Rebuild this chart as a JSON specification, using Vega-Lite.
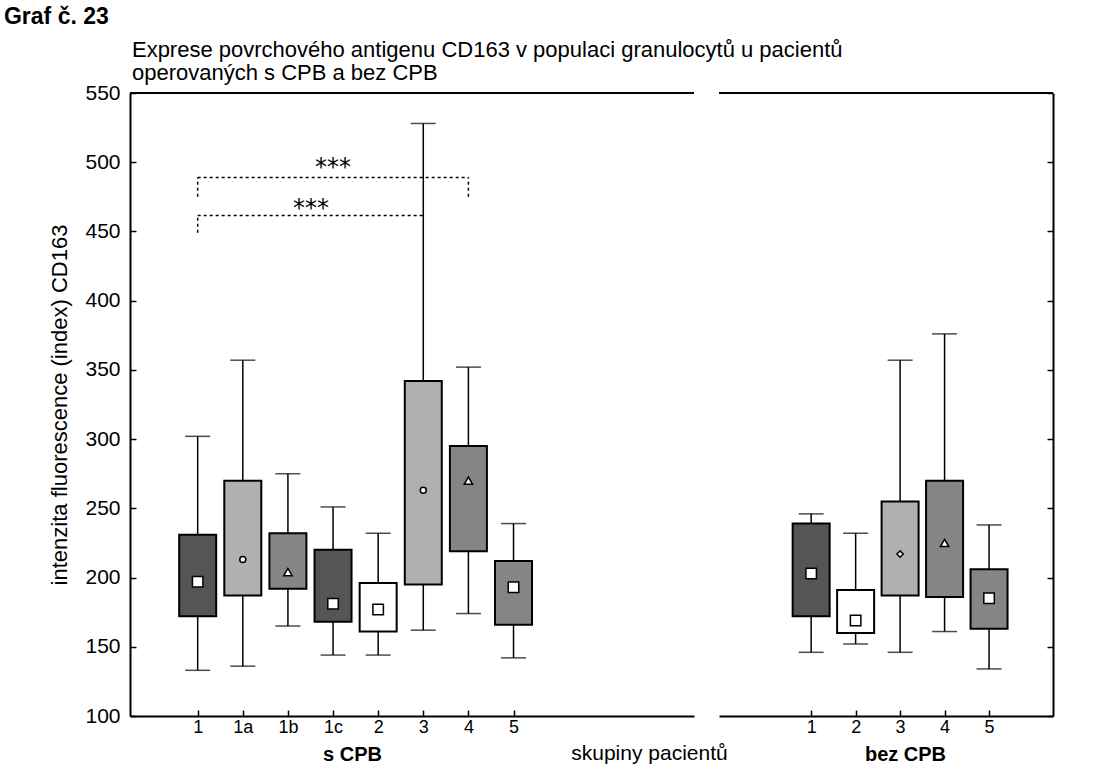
{
  "$schema": "https://vega.github.io/schema/vega-lite/v6.json",
  "padding": {"left": 3, "top": 6, "right": 10, "bottom": 5},
  "background": "white",
  "config": {
    "font": "Liberation Sans",
    "view": {"stroke": null},
    "axis": {
      "grid": false,
      "domainColor": "black",
      "domainWidth": 2,
      "tickColor": "black",
      "tickWidth": 1.5,
      "labelColor": "black",
      "titleColor": "black",
      "labelFont": "Liberation Sans",
      "titleFont": "Liberation Sans"
    },
    "concat": {"spacing": 23}
  },
  "datasets": {
    "sCPB": [
      {"skupina": "1", "id": "s1", "min": 133, "q1": 172, "mid": 197, "q3": 231, "max": 302},
      {"skupina": "1a", "id": "s1a", "min": 136, "q1": 187, "mid": 213, "q3": 270, "max": 357},
      {"skupina": "1b", "id": "s1b", "min": 165, "q1": 192, "mid": 204, "q3": 232, "max": 275},
      {"skupina": "1c", "id": "s1c", "min": 144, "q1": 168, "mid": 181, "q3": 220, "max": 251},
      {"skupina": "2", "id": "s2", "min": 144, "q1": 161, "mid": 177, "q3": 196, "max": 232},
      {"skupina": "3", "id": "s3", "min": 162, "q1": 195, "mid": 263, "q3": 342, "max": 528},
      {"skupina": "4", "id": "s4", "min": 174, "q1": 219, "mid": 270, "q3": 295, "max": 352},
      {"skupina": "5", "id": "s5", "min": 142, "q1": 166, "mid": 193, "q3": 212, "max": 239}
    ],
    "bezCPB": [
      {"skupina": "1", "id": "b1", "min": 146, "q1": 172, "mid": 203, "q3": 239, "max": 246},
      {"skupina": "2", "id": "b2", "min": 152, "q1": 160, "mid": 169, "q3": 191, "max": 232},
      {"skupina": "3", "id": "b3", "min": 146, "q1": 187, "mid": 217, "q3": 255, "max": 357},
      {"skupina": "4", "id": "b4", "min": 161, "q1": 186, "mid": 225, "q3": 270, "max": 376},
      {"skupina": "5", "id": "b5", "min": 134, "q1": 163, "mid": 185, "q3": 206, "max": 238}
    ],
    "zavorky": [
      {"od": "1", "do": "3", "y1": 461.5, "y2": 461.5},
      {"od": "1", "do": "1", "y1": 449, "y2": 461.5},
      {"od": "1", "do": "4", "y1": 489, "y2": 489},
      {"od": "1", "do": "1", "y1": 475, "y2": 489},
      {"od": "4", "do": "4", "y1": 475, "y2": 489}
    ],
    "hvezdicky": [
      {"u": "1c", "v": 499, "t": "***", "uroven": "horni"},
      {"u": "1b", "v": 469, "t": "***", "uroven": "dolni"}
    ]
  },
  "title": {
    "text": "Graf č. 23",
    "anchor": "start",
    "frame": "bounds",
    "dx": -45,
    "fontSize": 23,
    "fontWeight": "bold",
    "font": "Liberation Sans",
    "color": "black",
    "offset": 10
  },
  "vconcat": [
    {
      "title": {
        "text": ["Exprese povrchového antigenu CD163 v populaci granulocytů u pacientů", "operovaných s CPB a bez CPB"],
        "anchor": "start",
        "frame": "bounds",
        "dx": 83,
        "fontSize": 22,
        "fontWeight": "normal",
        "font": "Liberation Sans",
        "lineHeight": 23,
        "offset": -3,
        "color": "black"
      },
      "vconcat": [
        {
          "title": {
            "text": "skupiny pacientů",
            "orient": "bottom",
            "anchor": "middle",
            "frame": "bounds",
            "dx": 98,
            "fontSize": 21,
            "fontWeight": "normal",
            "font": "Liberation Sans",
            "offset": -21,
            "color": "black"
          },
          "hconcat": [
            {
              "width": 564,
              "height": 623,
              "data": {"name": "sCPB"},
              "layer": [
                {
                  "mark": {"type": "rule", "color": "black", "strokeWidth": 1.5},
                  "encoding": {
                    "x": {
                      "field": "skupina", "type": "ordinal",
                      "scale": {"type": "point", "domain": ["1", "1a", "1b", "1c", "2", "3", "4", "5", " ", "  ", "   ", "    "], "padding": 0.75, "align": 1},
                      "axis": {
                        "orient": "bottom", "values": ["1", "1a", "1b", "1c", "2", "3", "4", "5"],
                        "tickSize": -6, "labelPadding": 8, "labelFontSize": 18, "labelAngle": 0,
                        "title": "s CPB", "titleFontSize": 20, "titleFontWeight": "bold", "titleX": 222, "titlePadding": 8
                      }
                    },
                    "y": {
                      "field": "min", "type": "quantitative",
                      "scale": {"domain": [100, 550], "nice": false, "zero": false},
                      "axis": {
                        "orient": "left", "values": [100, 150, 200, 250, 300, 350, 400, 450, 500, 550],
                        "tickSize": -6, "labelPadding": 16, "labelFontSize": 21,
                        "title": "intenzita fluorescence (index) CD163", "titleFontSize": 22, "titleFontWeight": "normal", "titlePadding": 13
                      }
                    },
                    "y2": {"field": "max"}
                  }
                },
                {
                  "mark": {"type": "rule", "color": "black", "strokeWidth": 2},
                  "encoding": {"y": {"datum": 550, "type": "quantitative"}}
                },
                {
                  "mark": {"type": "tick", "color": "black", "size": 25, "thickness": 1.5},
                  "encoding": {
                    "x": {"field": "skupina", "type": "ordinal"},
                    "y": {"field": "min", "type": "quantitative"}
                  }
                },
                {
                  "mark": {"type": "tick", "color": "black", "size": 25, "thickness": 1.5},
                  "encoding": {
                    "x": {"field": "skupina", "type": "ordinal"},
                    "y": {"field": "max", "type": "quantitative"}
                  }
                },
                {
                  "mark": {"type": "bar", "size": 37, "stroke": "black", "strokeWidth": 2},
                  "encoding": {
                    "x": {"field": "skupina", "type": "ordinal"},
                    "y": {"field": "q1", "type": "quantitative"},
                    "y2": {"field": "q3"},
                    "fill": {
                      "field": "id", "type": "nominal", "legend": null,
                      "scale": {
                        "domain": ["s1", "s1a", "s1b", "s1c", "s2", "s3", "s4", "s5", "b1", "b2", "b3", "b4", "b5"],
                        "range": ["#555555", "#b0b0b0", "#858585", "#555555", "#ffffff", "#b0b0b0", "#858585", "#858585", "#555555", "#ffffff", "#b0b0b0", "#858585", "#858585"]
                      }
                    }
                  }
                },
                {
                  "mark": {"type": "point", "fill": "white", "stroke": "black", "strokeWidth": 1.5, "opacity": 1, "filled": false},
                  "encoding": {
                    "x": {"field": "skupina", "type": "ordinal"},
                    "y": {"field": "mid", "type": "quantitative"},
                    "shape": {
                      "field": "id", "type": "nominal", "legend": null,
                      "scale": {
                        "domain": ["s1", "s1a", "s1b", "s1c", "s2", "s3", "s4", "s5", "b1", "b2", "b3", "b4", "b5"],
                        "range": ["square", "circle", "triangle-up", "square", "square", "circle", "triangle-up", "square", "square", "square", "diamond", "triangle-up", "square"]
                      }
                    },
                    "size": {
                      "field": "id", "type": "nominal", "legend": null,
                      "scale": {
                        "type": "ordinal",
                        "domain": ["s1", "s1a", "s1b", "s1c", "s2", "s3", "s4", "s5", "b1", "b2", "b3", "b4", "b5"],
                        "range": [110, 36, 70, 110, 110, 36, 70, 110, 110, 110, 40, 70, 110]
                      }
                    }
                  }
                },
                {
                  "data": {"name": "zavorky"},
                  "mark": {"type": "rule", "color": "black", "strokeWidth": 1.5, "strokeDash": [3, 3]},
                  "encoding": {
                    "x": {"field": "od", "type": "ordinal"},
                    "x2": {"field": "do"},
                    "y": {"field": "y1", "type": "quantitative"},
                    "y2": {"field": "y2"}
                  }
                },
                {
                  "data": {"name": "hvezdicky"},
                  "transform": [{"filter": "datum.uroven === 'horni'"}],
                  "mark": {"type": "text", "font": "DejaVu Sans", "fontSize": 24, "baseline": "middle", "dy": 4, "color": "black"},
                  "encoding": {
                    "x": {"field": "u", "type": "ordinal"},
                    "y": {"field": "v", "type": "quantitative"},
                    "text": {"field": "t"}
                  }
                },
                {
                  "data": {"name": "hvezdicky"},
                  "transform": [{"filter": "datum.uroven === 'dolni'"}],
                  "mark": {"type": "text", "font": "DejaVu Sans", "fontSize": 24, "baseline": "middle", "dy": 4, "dx": 23, "color": "black"},
                  "encoding": {
                    "x": {"field": "u", "type": "ordinal"},
                    "y": {"field": "v", "type": "quantitative"},
                    "text": {"field": "t"}
                  }
                }
              ]
            },
            {
              "width": 334,
              "height": 623,
              "data": {"name": "bezCPB"},
              "layer": [
                {
                  "mark": {"type": "rule", "color": "black", "strokeWidth": 1.5},
                  "encoding": {
                    "x": {
                      "field": "skupina", "type": "ordinal",
                      "scale": {"type": "point", "domain": [" ", "1", "2", "3", "4", "5", "  "], "padding": 0.755, "align": 0.71},
                      "axis": {
                        "orient": "bottom", "values": ["1", "2", "3", "4", "5"],
                        "tickSize": -6, "labelPadding": 8, "labelFontSize": 18, "labelAngle": 0,
                        "title": "bez CPB", "titleFontSize": 20, "titleFontWeight": "bold", "titleX": 186, "titlePadding": 8
                      }
                    },
                    "y": {
                      "field": "min", "type": "quantitative",
                      "scale": {"domain": [100, 550], "nice": false, "zero": false},
                      "axis": {
                        "orient": "right", "values": [100, 150, 200, 250, 300, 350, 400, 450, 500, 550],
                        "tickSize": -6, "labels": false, "title": null
                      }
                    },
                    "y2": {"field": "max"}
                  }
                },
                {
                  "mark": {"type": "rule", "color": "black", "strokeWidth": 2},
                  "encoding": {"y": {"datum": 550, "type": "quantitative"}}
                },
                {
                  "mark": {"type": "tick", "color": "black", "size": 25, "thickness": 1.5},
                  "encoding": {
                    "x": {"field": "skupina", "type": "ordinal"},
                    "y": {"field": "min", "type": "quantitative"}
                  }
                },
                {
                  "mark": {"type": "tick", "color": "black", "size": 25, "thickness": 1.5},
                  "encoding": {
                    "x": {"field": "skupina", "type": "ordinal"},
                    "y": {"field": "max", "type": "quantitative"}
                  }
                },
                {
                  "mark": {"type": "bar", "size": 37, "stroke": "black", "strokeWidth": 2},
                  "encoding": {
                    "x": {"field": "skupina", "type": "ordinal"},
                    "y": {"field": "q1", "type": "quantitative"},
                    "y2": {"field": "q3"},
                    "fill": {
                      "field": "id", "type": "nominal", "legend": null,
                      "scale": {
                        "domain": ["s1", "s1a", "s1b", "s1c", "s2", "s3", "s4", "s5", "b1", "b2", "b3", "b4", "b5"],
                        "range": ["#555555", "#b0b0b0", "#858585", "#555555", "#ffffff", "#b0b0b0", "#858585", "#858585", "#555555", "#ffffff", "#b0b0b0", "#858585", "#858585"]
                      }
                    }
                  }
                },
                {
                  "mark": {"type": "point", "fill": "white", "stroke": "black", "strokeWidth": 1.5, "opacity": 1, "filled": false},
                  "encoding": {
                    "x": {"field": "skupina", "type": "ordinal"},
                    "y": {"field": "mid", "type": "quantitative"},
                    "shape": {
                      "field": "id", "type": "nominal", "legend": null,
                      "scale": {
                        "domain": ["s1", "s1a", "s1b", "s1c", "s2", "s3", "s4", "s5", "b1", "b2", "b3", "b4", "b5"],
                        "range": ["square", "circle", "triangle-up", "square", "square", "circle", "triangle-up", "square", "square", "square", "diamond", "triangle-up", "square"]
                      }
                    },
                    "size": {
                      "field": "id", "type": "nominal", "legend": null,
                      "scale": {
                        "type": "ordinal",
                        "domain": ["s1", "s1a", "s1b", "s1c", "s2", "s3", "s4", "s5", "b1", "b2", "b3", "b4", "b5"],
                        "range": [110, 36, 70, 110, 110, 36, 70, 110, 110, 110, 40, 70, 110]
                      }
                    }
                  }
                }
              ]
            }
          ]
        }
      ]
    }
  ]
}
